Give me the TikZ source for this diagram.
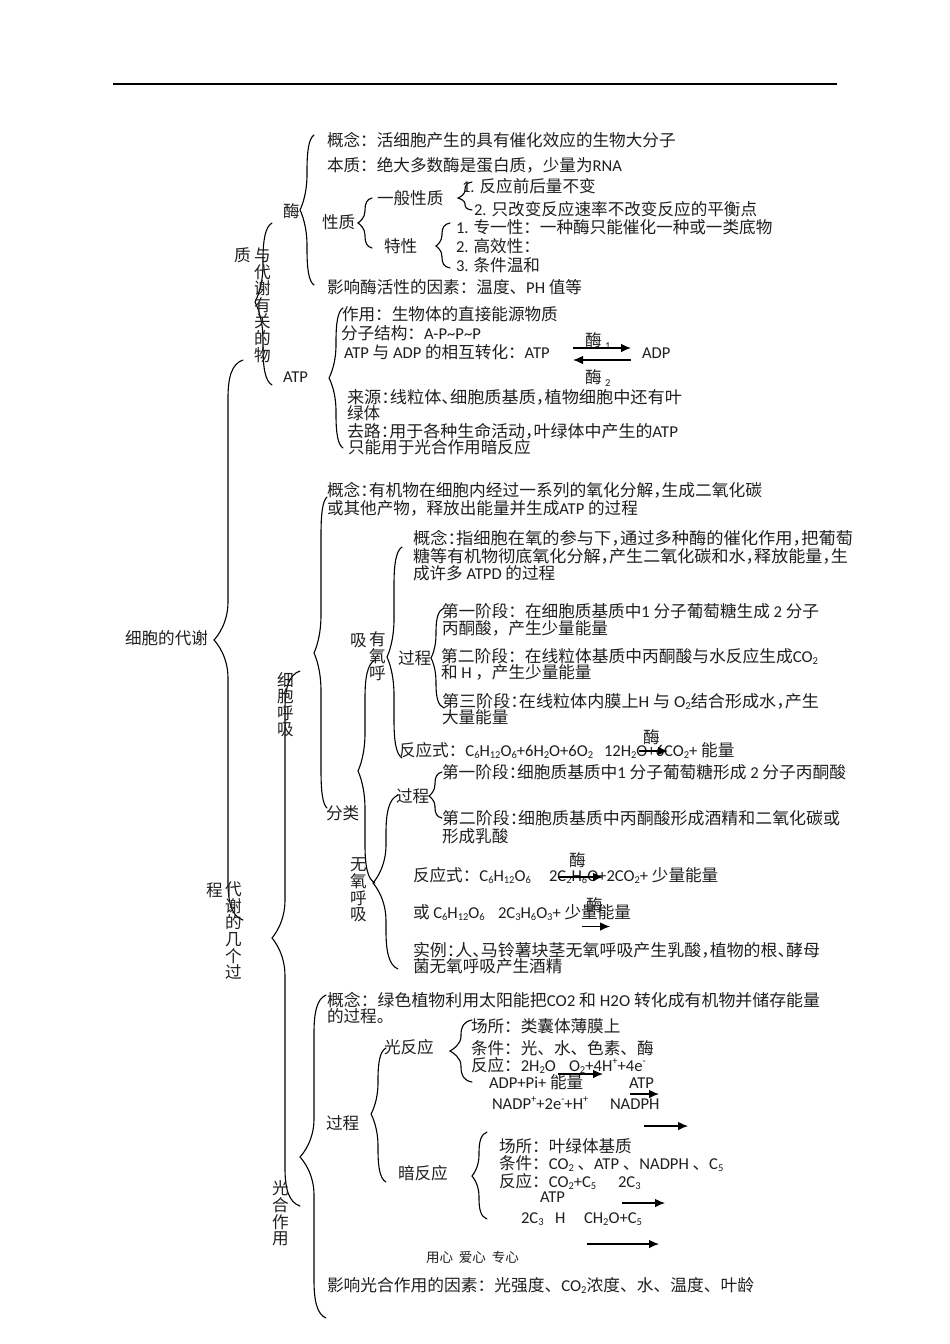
\documentclass[tikz,border=0pt]{standalone}
\usepackage{fontspec}
\usepackage{graphicx}
\usetikzlibrary{arrows.meta}
\setmainfont{Noto Sans CJK SC}
\newfontfamily\lat{Carlito}
\newcommand\la[1]{{\lat\fontsize{16.6}{16.6}\selectfont #1}}
\newcommand\dn[1]{\raisebox{-0.15em}{\fontsize{10.5}{10.5}\selectfont #1}}
\newcommand\ups[1]{\raisebox{0.38em}{\fontsize{10.5}{10.5}\selectfont #1}}
\newcommand\hp[1]{\makebox[.5em][l]{#1}}
\newcommand\fw[2]{\resizebox{#1pt}{\height}{#2}}
\newcommand\glu{\la{C\dn{6}H\dn{12}O\dn{6}}}
\tikzset{
  tx/.style={anchor=base west,inner sep=0pt,outer sep=0pt,font=\fontsize{16.6}{16.6}\selectfont,text=black!88},
  vt/.style={anchor=north west,inner sep=0pt,outer sep=0pt,align=left,font=\fontsize{16.6}{16.6}\selectfont,text=black!88},
  small/.style={anchor=base west,inner sep=0pt,outer sep=0pt,font=\fontsize{13.5}{13.5}\selectfont,text=black!88},
  brc/.style={draw=black,line width=1.1pt,line cap=round},
  arr/.style={draw=black,line width=1.1pt,-{Latex[length=10pt,width=8.5pt]}},
  rule/.style={draw=black,line width=1.2pt}
}
% xend ytop xspine xtip ytip ybot
\newcommand\brc[6]{%
 \pgfmathsetmacro\ra{min(38,(#5-#2)/2.1)}%
 \pgfmathsetmacro\rb{min(38,(#6-#5)/2.1)}%
 \pgfmathsetmacro\xa{#3+0.25*(#1-#3)}%
 \pgfmathsetmacro\xb{#4+0.25*(#3-#4)}%
 \draw[brc] (#1,#2) .. controls (\xa,#2+0.1*\ra) and (#3,#2+0.45*\ra) .. (#3,#2+\ra)
   -- (#3,#5-\ra) .. controls (#3,#5-0.45*\ra) and (\xb,#5-0.1*\ra) .. (#4,#5)
   .. controls (\xb,#5+0.1*\rb) and (#3,#5+0.45*\rb) .. (#3,#5+\rb)
   -- (#3,#6-\rb) .. controls (#3,#6-0.45*\rb) and (\xa,#6-0.1*\rb) .. (#1,#6);}
\newcommand\tx[4]{\node[tx] (#1) at (#2,#3) {#4};}
\newcommand\vtx[4]{\node[vt] (#1) at (#2,#3) {#4};}
\newcommand\arw[4]{\coordinate (#1s) at (#2,#4); \coordinate (#1e) at (#3,#4); \draw[arr] (#1s) -- (#1e);}
\begin{document}
\begin{tikzpicture}[x=1pt,y=-1pt]
\useasboundingbox (0,0) rectangle (950,1344);
\fill[white] (0,0) rectangle (950,1344);
\coordinate (ruleL) at (113,84); \coordinate (ruleR) at (837,84);
\draw[rule] (ruleL) -- (ruleR);
% braces
\brc{243}{360}{228}{214}{640}{920}
\brc{272}{223}{263}{255}{302}{385}
\brc{314}{135}{307}{300}{210}{285}
\brc{372}{198}{365}{358}{223}{248}
\brc{472}{182}{465}{458}{198}{210}
\brc{450}{223}{442}{436}{246}{268}
\brc{343}{308}{336}{329}{378}{448}
\brc{300}{671}{285}{272}{938}{1206}
\brc{327}{497}{321}{314}{653}{808}
\brc{375}{660}{365}{358}{771}{883}
\brc{402}{547}{394}{387}{657}{758}
\brc{444}{608}{436}{431}{658}{708}
\brc{398}{795}{386}{373}{883}{969}
\brc{442}{772}{435}{429}{796}{818}
\brc{326}{995}{314}{300}{1157}{1318}
\brc{386}{1048}{378}{371}{1114}{1182}
\brc{472}{1020}{461}{450}{1051}{1082}
\brc{487}{1132}{479}{472}{1176}{1219}
% left labels
\tx{root}{125}{644}{细胞的代谢}
\tx{cheng}{206}{896}{程}
\vtx{daixie}{225}{882}{代\\谢\\的\\几\\个\\过}
\tx{zhi}{234}{261}{质}
\vtx{youguan}{254}{248}{与\\代\\谢\\有\\关\\的\\物}
\vtx{xibao}{277}{672}{细\\胞\\呼\\吸}
\vtx{guanghe}{272}{1181}{光\\合\\作\\用}
\tx{mei}{283}{217}{酶}
\tx{atp}{283}{382}{\la{ATP}}
% enzyme
\tx{e1}{327}{146}{概念：活细胞产生的具有催化效应的生物大分子}
\tx{e2}{327}{171}{本质：绝大多数酶是蛋白质，少量为\la{RNA}}
\tx{e3}{462}{192}{\la{1.} 反应前后量不变}
\tx{e4}{377}{204}{一般性质}
\tx{e5}{474}{215}{\la{2.} 只改变反应速率不改变反应的平衡点}
\tx{e6}{322}{228}{性质}
\tx{e7}{456}{233}{\la{1.} 专一性：一种酶只能催化一种或一类底物}
\tx{e8}{384}{252}{特性}
\tx{e9}{456}{252}{\la{2.} 高效性：}
\tx{e10}{456}{271}{\la{3.} 条件温和}
\tx{e11}{327}{293}{影响酶活性的因素：温度、\la{PH} 值等}
% ATP
\tx{a1}{342}{320}{作用：生物体的直接能源物质}
\tx{a2}{341}{339}{分子结构：\la{A-P\textasciitilde P\textasciitilde P}}
\tx{a3}{344}{358}{\la{ATP} 与 \la{ADP} 的相互转化：\la{ATP}}
\tx{a4}{642}{358}{\la{ADP}}
\tx{a5}{585}{346}{酶}
\tx{a5s}{605}{347}{\la{\dn{1}}}
\tx{a6}{585}{383}{酶}
\tx{a6s}{605}{384}{\la{\dn{2}}}
\arw{aa}{573}{631}{348}
\arw{ab}{631}{573}{360}
\tx{a7}{347}{403}{\fw{335}{来源\hp{：}线粒体\hp{、}细胞质基质\hp{，}植物细胞中还有叶}}
\tx{a8}{347}{419}{绿体}
\tx{a9}{347}{437}{\fw{331}{去路\hp{：}用于各种生命活动\hp{，}叶绿体中产生的\la{ATP}}}
\tx{a10}{348}{453}{只能用于光合作用暗反应}
% respiration
\tx{r1}{327}{496}{\fw{435}{概念\hp{：}有机物在细胞内经过一系列的氧化分解\hp{，}生成二氧化碳}}
\tx{r2}{327}{514}{或其他产物，释放出能量并生成\la{ATP} 的过程}
\tx{r3}{413}{544}{\fw{440}{概念\hp{：}指细胞在氧的参与下\hp{，}通过多种酶的催化作用\hp{，}把葡萄}}
\tx{r4}{413}{562}{\fw{435}{糖等有机物彻底氧化分解\hp{，}产生二氧化碳和水\hp{，}释放能量\hp{，}生}}
\tx{r5}{413}{579}{成许多 \la{ATPD} 的过程}
\tx{r6}{442}{617}{\fw{377}{第一阶段：在细胞质基质中\la{1} 分子葡萄糖生成 \la{2} 分子}}
\tx{r7}{442}{634}{丙酮酸，产生少量能量}
\tx{r8}{441}{662}{\fw{377}{第二阶段：在线粒体基质中丙酮酸与水反应生成\la{CO\dn{2}}}}
\tx{r9}{441}{678}{和 \la{H} ，产生少量能量}
\tx{r10}{442}{707}{\fw{377}{第三阶段\hp{：}在线粒体内膜上\la{H} 与 \la{O\dn{2}}结合形成水\hp{，}产生}}
\tx{r11}{442}{723}{大量能量}
\tx{r12}{398}{664}{过程}
\tx{r13}{350}{646}{吸}
\vtx{r14}{369}{632}{有\\氧\\呼}
\tx{r15}{399}{756}{反应式：\la{C\dn{6}H\dn{12}O\dn{6}+6H\dn{2}O+6O\dn{2}}}
\tx{r16}{604}{756}{\la{12H\dn{2}O+6CO\dn{2}+} 能量}
\tx{r17}{643}{743}{酶}
\arw{rA}{639}{668}{751}
\tx{r18}{326}{819}{分类}
\vtx{r19}{350}{858}{无\\氧\\呼\\吸}
\tx{r20}{396}{802}{过程}
\tx{r21}{442}{778}{\fw{404}{第一阶段\hp{：}细胞质基质中\la{1} 分子葡萄糖形成 \la{2} 分子丙酮酸}}
\tx{r22}{442}{824}{\fw{398}{第二阶段\hp{：}细胞质基质中丙酮酸形成酒精和二氧化碳或}}
\tx{r23}{442}{842}{形成乳酸}
\tx{r24}{413}{881}{反应式：\glu}
\tx{r25}{549}{881}{\la{2C\dn{2}H\dn{6}O+2CO\dn{2}+} 少量能量}
\tx{r26}{569}{866}{酶}
\arw{rB}{558}{603}{877}
\tx{r27}{413}{918}{或 \glu}
\tx{r28}{498}{918}{\la{2C\dn{3}H\dn{6}O\dn{3}+} 少量能量}
\tx{r29}{586}{911}{酶}
\arw{rC}{582}{610}{926.5}
\tx{r30}{413}{956}{\fw{407}{实例\hp{：}人\hp{、}马铃薯块茎无氧呼吸产生乳酸\hp{，}植物的根\hp{、}酵母}}
\tx{r31}{413}{972}{菌无氧呼吸产生酒精}
% photosynthesis
\tx{p1}{327}{1006}{\fw{493}{概念：绿色植物利用太阳能把\la{CO2} 和 \la{H2O} 转化成有机物并储存能量}}
\tx{p2}{327}{1022}{的过程。}
\tx{p3}{471}{1032}{场所：类囊体薄膜上}
\tx{p4}{384}{1053}{光反应}
\tx{p5}{471}{1054}{条件：光、水、色素、酶}
\tx{p6}{471}{1071}{反应：\la{2H\dn{2}O}}
\tx{p7}{569}{1071}{\la{O\dn{2}+4H\ups{+}+4e\ups{-}}}
\arw{pA}{558}{603}{1074}
\tx{p8}{489}{1088}{\la{ADP+Pi+} 能量}
\tx{p9}{629}{1088}{\la{ATP}}
\arw{pB}{630}{659}{1094}
\tx{p10}{492}{1109}{\la{NADP\ups{+}+2e\ups{-}+H\ups{+}}}
\tx{p11}{610}{1109}{\la{NADPH}}
\arw{pC}{644}{688}{1126}
\tx{p12}{326}{1129}{过程}
\tx{p13}{398}{1179}{暗反应}
\tx{p14}{499}{1152}{场所：叶绿体基质}
\tx{p15}{499}{1169}{条件：\la{CO\dn{2}} 、\la{ATP} 、\la{NADPH} 、\la{C\dn{5}}}
\tx{p16}{499}{1187}{反应：\la{CO\dn{2}+C\dn{5}}}
\tx{p17}{618}{1187}{\la{2C\dn{3}}}
\tx{p18}{540}{1202}{\la{ATP}}
\arw{pD}{622}{665}{1203}
\tx{p19}{521}{1223}{\la{2C\dn{3}}}
\tx{p20}{555}{1223}{\la{H}}
\tx{p21}{584}{1223}{\la{CH\dn{2}O+C\dn{5}}}
\arw{pE}{587}{659}{1244}
\node[small] (foot) at (426,1262) {用心\hspace{6pt}爱心\hspace{6pt}专心};
\tx{p22}{327}{1291}{\fw{427}{影响光合作用的因素：光强度、\la{CO\dn{2}}浓度、水、温度、叶龄}}
\end{tikzpicture}
\end{document}
